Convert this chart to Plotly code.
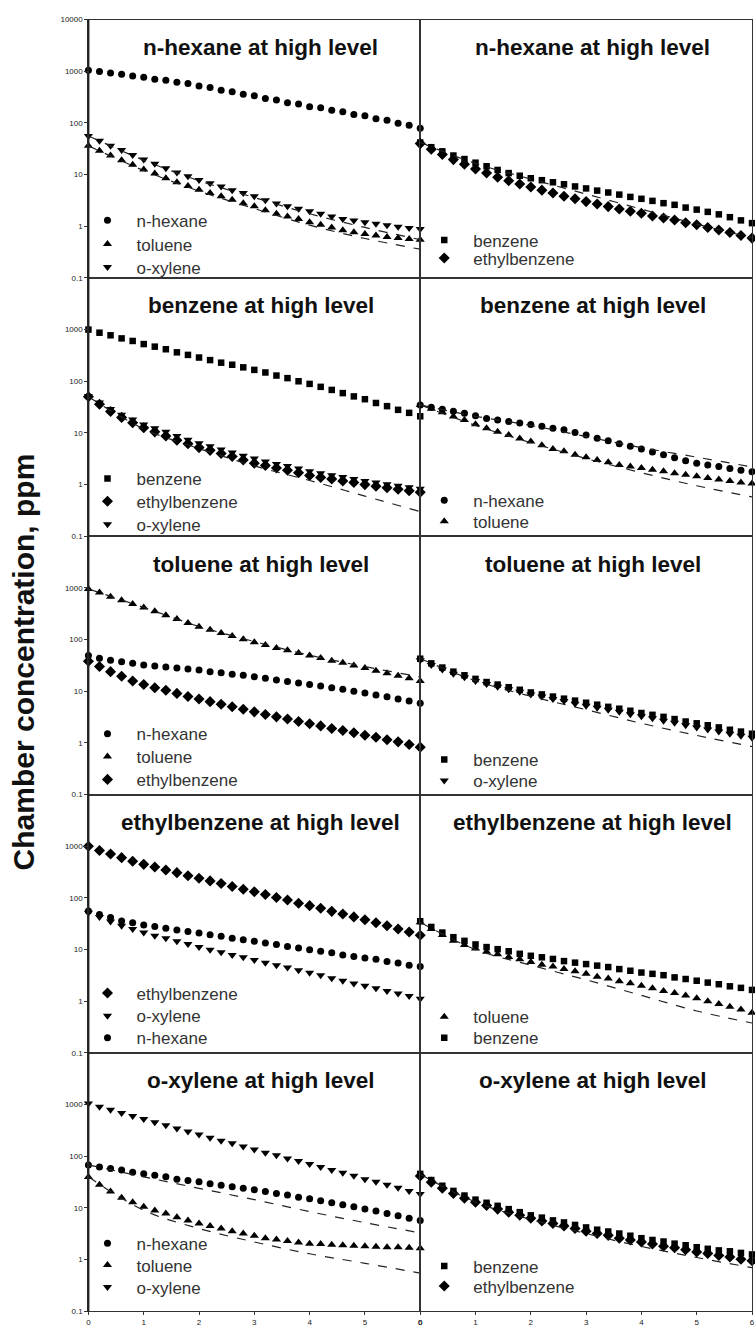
import plotly.graph_objects as go

# Sampling times (h) of the chamber measurements and of the model curves
TIME_H = [0.0, 0.2, 0.4, 0.6, 0.8, 1.0, 1.2, 1.4, 1.6, 1.8, 2.0, 2.2, 2.4, 2.6, 2.8, 3.0,
          3.2, 3.4, 3.6, 3.8, 4.0, 4.2, 4.4, 4.6, 4.8, 5.0, 5.2, 5.4, 5.6, 5.8, 6.0]
MODEL_T = [0, 1, 2, 3, 4, 5, 6]

# ---- n-hexane at high level -------------------------------------------
HEX_NHEXANE = [1047, 985, 926, 878, 806, 765, 702, 668, 610, 580, 520, 486, 431, 402, 358, 335,
               298, 279, 247, 232, 206, 197, 175, 165, 146, 137, 121, 113, 99, 90, 79]
HEX_TOLUENE = [36, 29, 23.5, 19, 15.5, 12.6, 10.5, 8.5, 7.1, 6.0, 5.1, 4.4, 3.8, 3.25, 2.8, 2.45,
               2.05, 1.75, 1.55, 1.38, 1.2, 1.07, 0.95, 0.84, 0.77, 0.71, 0.66, 0.62, 0.59, 0.57, 0.55]
HEX_OXYLENE = [56, 45, 36, 30, 24, 19.5, 16.2, 13.2, 11.0, 9.3, 7.9, 6.8, 5.9, 5.0, 4.4, 3.8,
               3.2, 2.75, 2.45, 2.19, 1.95, 1.74, 1.55, 1.38, 1.29, 1.20, 1.12, 1.05, 0.98, 0.93, 0.89]
HEX_BENZENE = [41.7, 33.9, 28.2, 23.4, 20.0, 17.0, 14.5, 12.3, 10.7, 9.5, 8.5, 7.8, 7.1, 6.5, 5.9, 5.4,
               4.9, 4.5, 4.1, 3.7, 3.4, 3.1, 2.8, 2.6, 2.3, 2.1, 1.9, 1.7, 1.5, 1.3, 1.15]
HEX_ETHYLBZ = [39.8, 30.9, 24.5, 19.5, 15.8, 12.9, 10.7, 8.9, 7.6, 6.6, 5.75, 5.0, 4.4, 3.8, 3.4, 3.0,
               2.7, 2.4, 2.15, 1.95, 1.78, 1.58, 1.45, 1.32, 1.17, 1.07, 0.95, 0.85, 0.76, 0.66, 0.59]
HEX_MODEL_TOLUENE = [36, 12, 4.8, 2.2, 1.05, 0.58, 0.36]
HEX_MODEL_OXYLENE = [56, 19, 7.6, 3.6, 1.75, 0.95, 0.55]
HEX_MODEL_BENZENE = [42, 16.5, 8.2, 4.2, 2.15, 1.1, 0.6]

# ---- benzene at high level --------------------------------------------
BZ_BENZENE = [1000, 871, 776, 676, 603, 525, 468, 417, 363, 324, 288, 257, 229, 209, 186, 166,
              148, 129, 115, 100, 89, 78, 68, 59, 51, 45, 38, 33, 28, 24.5, 21]
BZ_ETHYLBZ = [50, 36, 26, 20, 15.8, 12.6, 10.5, 8.7, 7.2, 6.2, 5.2, 4.6, 4.0, 3.5, 3.0, 2.6,
              2.35, 2.1, 1.9, 1.7, 1.5, 1.38, 1.29, 1.17, 1.10, 1.0, 0.93, 0.87, 0.81, 0.76, 0.71]
BZ_OXYLENE = [52, 39, 29, 22.4, 18.2, 14.5, 12.3, 10.5, 8.7, 7.4, 6.3, 5.5, 4.8, 4.2, 3.6, 3.2,
              2.8, 2.5, 2.3, 2.05, 1.82, 1.66, 1.51, 1.41, 1.29, 1.17, 1.10, 1.02, 0.95, 0.89, 0.83]
BZ_NHEXANE = [34.7, 31.6, 28.8, 26.3, 24.0, 21.4, 19.1, 17.8, 16.6, 15.5, 14.5, 13.5, 12.3, 11.5, 10.2, 9.1,
              7.9, 7.1, 6.2, 5.5, 4.9, 4.3, 3.8, 3.3, 2.9, 2.6, 2.4, 2.24, 2.04, 1.9, 1.78]
BZ_TOLUENE = [34.7, 29.5, 25.1, 20.9, 17.8, 14.8, 12.3, 10.5, 9.1, 7.8, 6.8, 5.75, 4.9, 4.4, 3.8, 3.4,
              3.0, 2.7, 2.4, 2.24, 2.09, 1.95, 1.82, 1.66, 1.55, 1.45, 1.35, 1.26, 1.17, 1.10, 1.05]
BZ_MODEL_LOW = [50, 12, 5, 2.3, 1.2, 0.6, 0.3]
BZ_MODEL_NHEXANE = [35, 21, 14, 8.5, 5.2, 3.4, 2.2]
BZ_MODEL_TOLUENE = [35, 14, 6.5, 3.2, 1.7, 0.95, 0.58]

# ---- toluene at high level --------------------------------------------
TOL_TOLUENE = [955, 813, 676, 575, 490, 417, 355, 295, 251, 209, 178, 155, 135, 117, 102, 89,
               79, 69, 62, 55, 49, 44, 39, 35.5, 31.6, 28.2, 25.1, 22.4, 20.0, 17.8, 15.8]
TOL_NHEXANE = [49, 43.7, 39.8, 37.2, 34.7, 32.4, 30.9, 29.5, 28.2, 26.9, 25.7, 24.0, 22.9, 21.4, 20.4, 19.1,
               17.8, 16.6, 15.5, 14.5, 13.5, 12.6, 11.7, 11.0, 10.0, 9.3, 8.5, 7.8, 7.1, 6.5, 5.9]
TOL_ETHYLBZ = [38, 30.2, 24.0, 19.5, 15.8, 13.5, 11.7, 10.5, 9.1, 7.9, 7.1, 6.3, 5.6, 5.0, 4.5, 4.0,
               3.55, 3.2, 2.9, 2.6, 2.35, 2.14, 1.9, 1.74, 1.58, 1.41, 1.29, 1.15, 1.05, 0.93, 0.83]
TOL_BENZENE = [42.7, 34.7, 28.8, 24.0, 20.4, 17.4, 15.1, 13.5, 12.0, 10.7, 9.5, 8.7, 7.9, 7.2, 6.6, 6.0,
               5.5, 5.0, 4.6, 4.2, 3.8, 3.5, 3.2, 2.9, 2.6, 2.4, 2.2, 2.0, 1.8, 1.66, 1.51]
TOL_OXYLENE = [39.8, 32.4, 26.3, 21.9, 18.6, 15.8, 13.8, 12.3, 11.0, 9.8, 8.7, 7.9, 7.1, 6.5, 5.75, 5.25,
               4.8, 4.4, 4.0, 3.6, 3.3, 3.0, 2.7, 2.45, 2.2, 2.0, 1.82, 1.66, 1.51, 1.38, 1.26]
TOL_MODEL_TOLUENE = [955, 420, 180, 92, 50, 30, 19]
TOL_MODEL_LOW = [43, 16, 8, 4.4, 2.4, 1.4, 0.85]

# ---- ethylbenzene at high level ---------------------------------------
EB_ETHYLBZ = [1000, 832, 708, 603, 513, 447, 398, 347, 309, 269, 240, 214, 191, 166, 148, 132,
              117, 102, 91, 79, 71, 63, 55, 49, 43, 38, 33, 29, 25, 22, 19]
EB_OXYLENE = [52, 43, 35, 29, 25, 21.4, 18.6, 16.6, 14.5, 12.9, 11.2, 10.0, 8.9, 7.9, 7.1, 6.3,
              5.6, 5.0, 4.5, 4.0, 3.55, 3.2, 2.8, 2.5, 2.2, 2.0, 1.78, 1.58, 1.41, 1.26, 1.12]
EB_NHEXANE = [56, 48, 42, 36, 33, 30, 28, 26, 24, 22.4, 20.9, 19.5, 18.2, 16.6, 15.5, 14.5,
              13.5, 12.6, 11.5, 10.7, 10.0, 9.3, 8.7, 7.9, 7.4, 6.9, 6.5, 5.9, 5.5, 5.0, 4.7]
EB_TOLUENE = [33.9, 25.1, 19.1, 14.8, 12.3, 10.5, 9.1, 8.1, 7.2, 6.5, 5.75, 5.1, 4.7, 4.2, 3.8, 3.4,
              3.0, 2.75, 2.45, 2.24, 2.0, 1.78, 1.58, 1.45, 1.29, 1.15, 1.0, 0.89, 0.78, 0.69, 0.60]
EB_BENZENE = [35.5, 27.5, 21.4, 17.4, 14.8, 12.6, 11.2, 10.2, 9.3, 8.3, 7.6, 7.1, 6.6, 6.0, 5.6, 5.25,
              4.9, 4.6, 4.2, 3.9, 3.6, 3.4, 3.2, 2.9, 2.7, 2.5, 2.3, 2.14, 1.95, 1.82, 1.66]
EB_MODEL_TOLUENE = [34, 10, 5, 2.6, 1.3, 0.65, 0.38]

# ---- o-xylene at high level -------------------------------------------
OX_NHEXANE = [68, 62, 58, 54, 49, 46, 43, 40, 36, 34, 32, 29.5, 27.5, 25.7, 24.0, 22.4,
              20.9, 19.1, 17.8, 16.2, 15.1, 13.8, 12.6, 11.5, 10.5, 9.5, 8.7, 7.8, 7.1, 6.3, 5.75]
OX_TOLUENE = [39.8, 28.2, 20.9, 15.8, 12.9, 10.5, 8.9, 7.8, 6.6, 5.75, 5.0, 4.5, 4.0, 3.55, 3.2, 2.9,
              2.6, 2.45, 2.3, 2.14, 2.04, 2.0, 1.95, 1.9, 1.86, 1.82, 1.78, 1.74, 1.74, 1.7, 1.66]
OX_OXYLENE = [1047, 912, 794, 692, 603, 525, 457, 398, 347, 302, 263, 229, 200, 178, 155, 135,
              117, 105, 91, 81, 71, 62, 54, 48, 42, 36, 32, 28, 24.5, 21.4, 18.6]
OX_BENZENE = [45.7, 34.7, 26.9, 21.4, 17.4, 14.5, 12.6, 11.0, 9.5, 8.3, 7.2, 6.5, 5.75, 5.25, 4.7, 4.2,
              3.8, 3.5, 3.2, 2.9, 2.6, 2.4, 2.24, 2.04, 1.9, 1.74, 1.62, 1.51, 1.45, 1.35, 1.26]
OX_ETHYLBZ = [41.7, 31.6, 24.0, 19.1, 15.5, 12.9, 11.2, 9.5, 8.3, 7.2, 6.3, 5.6, 5.0, 4.5, 4.0, 3.55,
              3.2, 2.95, 2.6, 2.4, 2.2, 2.0, 1.82, 1.7, 1.55, 1.41, 1.32, 1.2, 1.12, 1.02, 0.95]
OX_MODEL_NHEXANE = [68, 40, 24, 14.5, 8.5, 5.2, 3.3]
OX_MODEL_TOLUENE = [40, 9, 4, 2.2, 1.3, 0.85, 0.55]
OX_MODEL_LOW = [45, 13, 6, 3.2, 1.8, 1.1, 0.7]

Y_TICKS = [0.1, 1, 10, 100, 1000, 10000]
Y_TICK_TEXT = ["0.1", "1", "10", "100", "1000", "10000"]
X_TICKS = [0, 1, 2, 3, 4, 5, 6]
X_TICK_TEXT = ["0", "1", "2", "3", "4", "5", "6"]

SYMBOL = {"n-hexane": "circle", "toluene": "triangle-up", "o-xylene": "triangle-down",
          "benzene": "square", "ethylbenzene": "diamond"}
MSIZE = {"circle": 7, "triangle-up": 8, "triangle-down": 8, "square": 6.5, "diamond": 8.5}

# (row, col, title, [(compound, data)], [model curves], legend row centres in px)
PANELS = [
    (0, 0, "n-hexane at high level",
     [("n-hexane", HEX_NHEXANE), ("toluene", HEX_TOLUENE), ("o-xylene", HEX_OXYLENE)],
     [HEX_MODEL_TOLUENE, HEX_MODEL_OXYLENE], [220, 244, 267]),
    (0, 1, "n-hexane at high level",
     [("benzene", HEX_BENZENE), ("ethylbenzene", HEX_ETHYLBZ)],
     [HEX_MODEL_BENZENE], [240, 258]),
    (1, 0, "benzene at high level",
     [("benzene", BZ_BENZENE), ("ethylbenzene", BZ_ETHYLBZ), ("o-xylene", BZ_OXYLENE)],
     [BZ_MODEL_LOW], [480, 503, 526]),
    (1, 1, "benzene at high level",
     [("n-hexane", BZ_NHEXANE), ("toluene", BZ_TOLUENE)],
     [BZ_MODEL_NHEXANE, BZ_MODEL_TOLUENE], [502, 523]),
    (2, 0, "toluene at high level",
     [("n-hexane", TOL_NHEXANE), ("toluene", TOL_TOLUENE), ("ethylbenzene", TOL_ETHYLBZ)],
     [TOL_MODEL_TOLUENE], [737, 760, 783]),
    (2, 1, "toluene at high level",
     [("benzene", TOL_BENZENE), ("o-xylene", TOL_OXYLENE)],
     [TOL_MODEL_LOW], [763, 784]),
    (3, 0, "ethylbenzene at high level",
     [("ethylbenzene", EB_ETHYLBZ), ("o-xylene", EB_OXYLENE), ("n-hexane", EB_NHEXANE)],
     [], [998, 1021, 1043]),
    (3, 1, "ethylbenzene at high level",
     [("toluene", EB_TOLUENE), ("benzene", EB_BENZENE)],
     [EB_MODEL_TOLUENE], [1022, 1043]),
    (4, 0, "o-xylene at high level",
     [("n-hexane", OX_NHEXANE), ("toluene", OX_TOLUENE), ("o-xylene", OX_OXYLENE)],
     [OX_MODEL_NHEXANE, OX_MODEL_TOLUENE], [1250, 1272, 1294]),
    (4, 1, "o-xylene at high level",
     [("benzene", OX_BENZENE), ("ethylbenzene", OX_ETHYLBZ)],
     [OX_MODEL_LOW], [1273, 1293]),
]

FIG_W, FIG_H = 755, 1332
ROW_TOP, ROW_H = 15.7, 260.1
COLS = [(87, 421), (421, 755)]
FONT = "Liberation Sans, Arial, sans-serif"
INK = "#1a1a1a"
LEGEND_TEXT_X = [135, 474]
LEGEND_ITEMWIDTH = 48
LEGEND_CENTRE_OFFSET = 20   # distance from legend box top to the entry's centre line

fig = go.Figure()
layout = dict(width=FIG_W, height=FIG_H, margin=dict(l=0, r=0, t=0, b=0),
              paper_bgcolor="white", plot_bgcolor="white", showlegend=True,
              font=dict(family=FONT, color=INK), annotations=[], shapes=[])

n_legend = 0
for i, (row, col, title, series, models, legend_rows) in enumerate(PANELS):
    n = i + 1
    xa, ya = ("x", "y") if n == 1 else (f"x{n}", f"y{n}")
    xkey, ykey = ("xaxis", "yaxis") if n == 1 else (f"xaxis{n}", f"yaxis{n}")
    top = ROW_TOP + row * ROW_H
    bot = top + ROW_H
    x0, x1 = COLS[col]
    bottom_row = row == len(PANELS) // 2 - 1

    layout[xkey] = dict(domain=[x0 / FIG_W, x1 / FIG_W], anchor=ya, range=[0, 6],
                        showline=True, mirror=True, linecolor="#333", linewidth=1.2,
                        showgrid=False, zeroline=False, tickvals=X_TICKS, ticktext=X_TICK_TEXT,
                        showticklabels=bottom_row, ticks="outside" if bottom_row else "",
                        ticklen=3, tickcolor="#333", tickfont=dict(size=8, family=FONT))
    y_vals = Y_TICKS if row == 0 else Y_TICKS[:-1]
    layout[ykey] = dict(domain=[1 - bot / FIG_H, 1 - top / FIG_H], anchor=xa, type="log",
                        range=[-1, 4], showline=True, mirror=True, linecolor="#333",
                        linewidth=1.2, showgrid=False, zeroline=False,
                        tickvals=y_vals, ticktext=Y_TICK_TEXT[:len(y_vals)],
                        showticklabels=col == 0, ticks="outside" if col == 0 else "",
                        ticklen=3, tickcolor="#333", tickfont=dict(size=8, family=FONT))

    for (name, vals), leg_y in zip(series, legend_rows):
        n_legend += 1
        leg_key = "legend" if n_legend == 1 else f"legend{n_legend}"
        sym = SYMBOL[name]
        fig.add_trace(go.Scatter(
            x=TIME_H, y=vals, mode="markers", name=name, xaxis=xa, yaxis=ya,
            legend=leg_key, cliponaxis=False,
            marker=dict(symbol=sym, size=MSIZE[sym], color="black", line=dict(width=0))))
        layout[leg_key] = dict(
            x=(LEGEND_TEXT_X[col] - LEGEND_ITEMWIDTH - 10) / FIG_W, xanchor="left",
            y=1 - (leg_y - LEGEND_CENTRE_OFFSET) / FIG_H, yanchor="top",
            bgcolor="rgba(0,0,0,0)", itemwidth=LEGEND_ITEMWIDTH,
            font=dict(family=FONT, size=17, color="#333"), itemclick=False)
    for m in models:
        fig.add_trace(go.Scatter(
            x=MODEL_T, y=m, mode="lines", xaxis=xa, yaxis=ya, showlegend=False,
            line=dict(color="#222", width=1.2, dash="dash", shape="spline")))

    layout["annotations"].append(dict(
        text=title, xref=f"{xa} domain", yref=f"{ya} domain", x=0.52, y=1 - 28 / ROW_H,
        xanchor="center", yanchor="middle", showarrow=False,
        font=dict(family=FONT, size=22.5, color="#111", weight="bold")))

# heavier left spine running down the whole left column
layout["shapes"].append(dict(
    type="line", xref="paper", yref="paper", x0=COLS[0][0] / FIG_W, x1=COLS[0][0] / FIG_W,
    y0=1 - (ROW_TOP + 5 * ROW_H) / FIG_H, y1=1 - ROW_TOP / FIG_H,
    line=dict(color="#222", width=2), layer="above"))

layout["annotations"].append(dict(
    text="Chamber concentration, ppm", xref="paper", yref="paper",
    x=22 / FIG_W, y=1 - 662 / FIG_H, textangle=-90, showarrow=False,
    xanchor="center", yanchor="middle",
    font=dict(family=FONT, size=30, color="#111", weight="bold")))

fig.update_layout(**layout)
fig.write_html("out.html")
